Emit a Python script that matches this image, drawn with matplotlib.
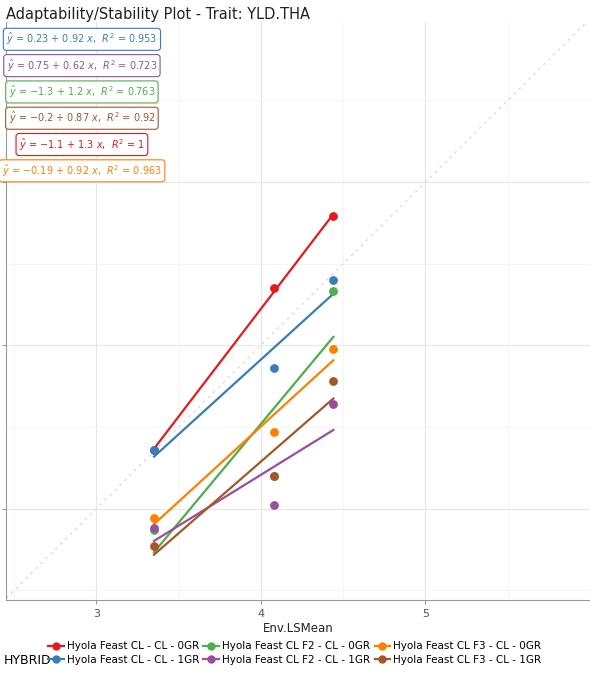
import numpy as np
import matplotlib
matplotlib.use("Agg")
import matplotlib.pyplot as plt
from matplotlib.lines import Line2D

env_x = [3.35, 4.08, 4.44]
hybrids = ["Hyola Feast CL - CL - 0GR", "Hyola Feast CL - CL - 1GR",
           "Hyola Feast CL F2 - CL - 0GR", "Hyola Feast CL F2 - CL - 1GR",
           "Hyola Feast CL F3 - CL - 0GR", "Hyola Feast CL F3 - CL - 1GR"]
colors = ["#E41A1C", "#377EB8", "#4DAF4A", "#984EA3", "#FF7F00", "#A65628"]
yields = [
    [3.36, 4.35, 4.79],
    [3.36, 3.86, 4.40],
    [2.87, 3.20, 4.33],
    [2.88, 3.02, 3.64],
    [2.94, 3.47, 3.98],
    [2.77, 3.20, 3.78],
]
eq_labels = [
    (1, "0.23 + 0.92", "0.953"),
    (3, "0.75 + 0.62", "0.723"),
    (2, "\u22121.3 + 1.2", "0.763"),
    (5, "\u22120.2 + 0.87", "0.92"),
    (0, "\u22121.1 + 1.3", "1"),
    (4, "\u22120.19 + 0.92", "0.963"),
]

W, H = 590, 682
fig = plt.figure(figsize=(W / 100, H / 100), dpi=100)
ax = fig.add_axes([6 / W, 1 - 600 / H, 584 / W, 578 / H])
ax.set_xlim(2.45, 6.0)
ax.set_ylim(2.44, 5.98)
ax.set_xticks([3, 4, 5])
ax.set_yticks([3, 4, 5])
ax.set_xticks([2.5, 3.5, 4.5, 5.5], minor=True)
ax.set_yticks([2.5, 3.5, 4.5, 5.5], minor=True)
ax.grid(True, which="major", color="#e6e6e6", lw=0.8)
ax.grid(True, which="minor", color="#f2f2f2", lw=0.5)
ax.set_axisbelow(True)
for s in ax.spines.values():
    s.set_color("#999999")
ax.spines["top"].set_visible(False)
ax.spines["right"].set_visible(False)
ax.tick_params(colors="#999999", labelcolor="#555555", labelsize=8, length=3)
ax.tick_params(which="minor", length=0)
ax.set_yticklabels(["", "", ""])

ax.plot([2.45, 6.0], [2.45, 6.0], ls=(0, (2, 3)), color="#dddddd", lw=1)

x = np.array(env_x)
for c, ys in zip(colors, yields):
    b, a = np.polyfit(x, ys, 1)
    ax.plot(x[[0, -1]], a + b * x[[0, -1]], color=c, lw=1.6)
    ax.scatter(x, ys, color=c, s=28, zorder=3)

for i, (ci, eq, r2) in enumerate(eq_labels):
    ax.text(0.13, 0.97 - i * 0.0455, rf"$\hat{{y}}$ = {eq} $x$,  $R^2$ = {r2}",
            transform=ax.transAxes, ha="center", va="center", fontsize=7,
            color=colors[ci],
            bbox=dict(boxstyle="round,pad=0.3", fc="white", ec=colors[ci], lw=0.8))

ax.set_xlabel("Env.LSMean", fontsize=8.5, color="#222222", labelpad=2)
fig.text(6 / W, 1 - 14 / H, "Adaptability/Stability Plot - Trait: YLD.THA",
         fontsize=10.5, va="center", color="#222222")

handles = [Line2D([0], [0], color=c, marker="o", lw=1.6, ms=5) for c in colors]
fig.legend(handles, hybrids, ncol=3, loc="center left",
           bbox_to_anchor=(44 / W, 1 - 653 / H), frameon=False, fontsize=7.5,
           handlelength=1.5, columnspacing=0.4, handletextpad=0.3,
           labelspacing=0.3, borderaxespad=0)
fig.text(4 / W, 1 - 660 / H, "HYBRID", fontsize=9, va="center")

fig.savefig("out.png", dpi=100)
